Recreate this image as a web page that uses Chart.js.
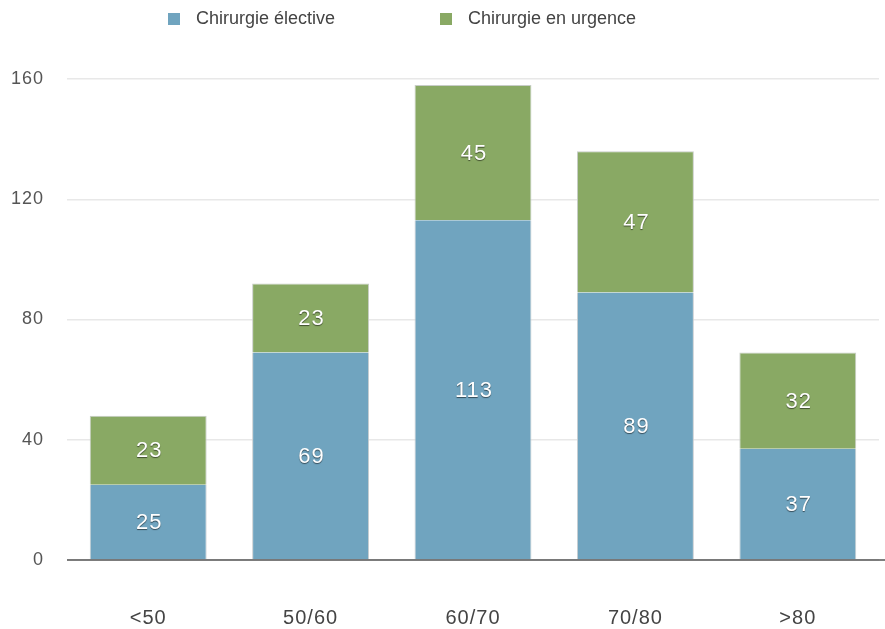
<!DOCTYPE html>
<html>
<head>
<meta charset="utf-8">
<script src="https://cdn.jsdelivr.net/npm/chart.js@4"></script>
<style>
  html, body { margin: 0; padding: 0; background: #fff; }
  #wrap { position: relative; width: 885px; height: 629px; }
  #legend { position: absolute; top: 6px; left: 0; width: 885px; height: 24px; font-family: "Liberation Sans", Arial, sans-serif; font-size: 18px; color: #444; }
  .item { position: absolute; top: 0; line-height: 24px; }
  .box { display: inline-block; width: 12px; height: 12px; vertical-align: -1px; margin-right: 16px; }
</style>
</head>
<body>
<div id="wrap">
  <div id="legend"></div>
  <canvas id="chart" width="885" height="629"></canvas>
</div>
<script>
// Données
const categories = ['<50', '50/60', '60/70', '70/80', '>80'];
const elective = [25, 69, 113, 89, 37];
const urgence = [23, 23, 45, 47, 32];
const yTicks = [0, 40, 80, 120, 160];

const seriesNames = ['Chirurgie élective', 'Chirurgie en urgence'];
const seriesColors = ['#70a4bf', '#89a964'];
const fontFamily = '"Liberation Sans", Arial, sans-serif';

// Légende HTML
const legendPos = [168, 440];
const legendEl = document.getElementById('legend');
seriesNames.forEach((name, i) => {
    const item = document.createElement('div');
    item.className = 'item';
    item.style.left = legendPos[i] + 'px';
    item.innerHTML = `<span class="box" style="background:${seriesColors[i]}"></span>${name}`;
    legendEl.appendChild(item);
});

// Léger espacement des lettres pour imiter la police d'origine
const letterSpacing = {
    id: 'letterSpacing',
    beforeDraw(chart) {
        chart.ctx.letterSpacing = '1px';
    }
};

// Étiquettes de valeur au centre de chaque segment
const valueLabels = {
    id: 'valueLabels',
    afterDatasetsDraw(chart) {
        const ctx = chart.ctx;
        ctx.save();
        ctx.letterSpacing = '1px';
        ctx.font = '22px ' + fontFamily;
        ctx.textAlign = 'center';
        ctx.textBaseline = 'middle';
        ctx.fillStyle = '#ffffff';
        ctx.shadowColor = 'rgba(0,0,0,0.55)';
        ctx.shadowOffsetX = 0;
        ctx.shadowOffsetY = 1;
        ctx.shadowBlur = 1;
        chart.data.datasets.forEach((ds, di) => {
            chart.getDatasetMeta(di).data.forEach((bar, i) => {
                const mid = (bar.y + bar.base) / 2;
                ctx.fillText(String(ds.data[i]), bar.x + 1, mid + 1);
            });
        });
        ctx.restore();
    }
};

// Ligne de base (0) plus foncée
const zeroLine = {
    id: 'zeroLine',
    afterDatasetsDraw(chart) {
        const y = chart.scales.y.getPixelForValue(0);
        const ctx = chart.ctx;
        ctx.save();
        ctx.strokeStyle = '#555';
        ctx.lineWidth = 1.5;
        ctx.beginPath();
        ctx.moveTo(chart.chartArea.left, y);
        ctx.lineTo(chart.width, y);
        ctx.stroke();
        ctx.restore();
    }
};

new Chart(document.getElementById('chart'), {
    type: 'bar',
    data: {
        labels: categories,
        datasets: [
            { label: seriesNames[0], data: elective, backgroundColor: seriesColors[0], borderColor: '#c8cdd0', borderWidth: { left: 1, right: 1, top: 0, bottom: 0 } },
            { label: seriesNames[1], data: urgence, backgroundColor: seriesColors[1], borderColor: '#c8cdc8', borderWidth: { left: 1, right: 1, top: 1, bottom: 0 } }
        ]
    },
    options: {
        responsive: false,
        animation: false,
        devicePixelRatio: 1,
        layout: { padding: { top: 79, right: 6, left: 0, bottom: 0 } },
        plugins: {
            legend: { display: false },
            tooltip: { enabled: false }
        },
        datasets: {
            bar: { barPercentage: 0.72, categoryPercentage: 1 }
        },
        scales: {
            x: {
                stacked: true,
                grid: { display: false },
                border: { display: false },
                ticks: {
                    color: '#444',
                    font: { family: fontFamily, size: 20 },
                    padding: 38
                },
                afterFit(scale) { scale.height = 69; }
            },
            y: {
                stacked: true,
                min: 0,
                max: 160,
                afterBuildTicks(scale) { scale.ticks = yTicks.map(v => ({ value: v })); },
                grid: { color: '#e8e8e8', lineWidth: 1.5, drawTicks: false },
                border: { display: false },
                ticks: {
                    color: '#555',
                    font: { family: fontFamily, size: 18 },
                    padding: 23
                },
                afterFit(scale) { scale.width = 67; }
            }
        }
    },
    plugins: [letterSpacing, valueLabels, zeroLine]
});
</script>
</body>
</html>
